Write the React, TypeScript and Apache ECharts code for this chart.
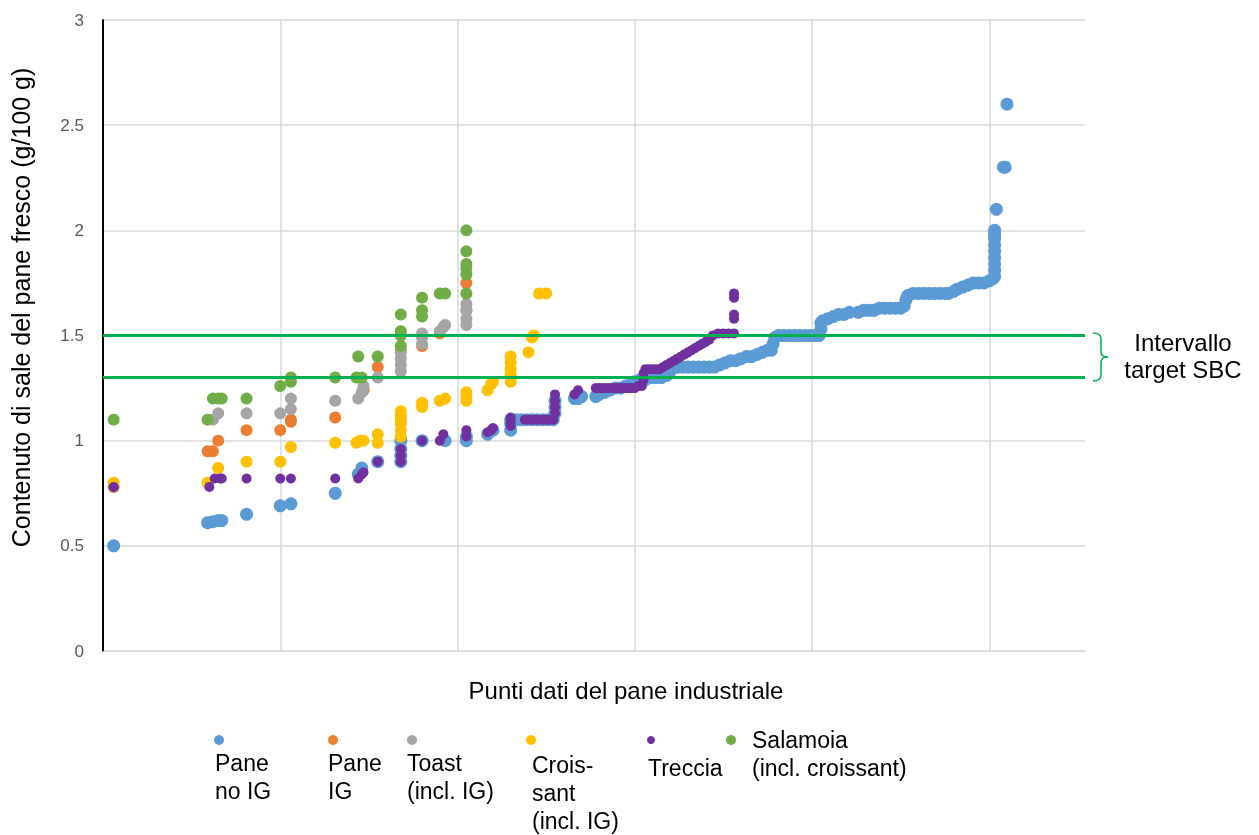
import React, { useEffect, useRef } from "react";
import * as echarts from "echarts";

// ---- data ----
const seriesNames = [
  "Pane no IG",
  "Pane IG",
  "Toast (incl. IG)",
  "Croissant (incl. IG)",
  "Treccia",
  "Salamoia (incl. croissant)",
];
const legendLabels = [
  "Pane\nno IG",
  "Pane\nIG",
  "Toast\n(incl. IG)",
  "Crois-\nsant\n(incl. IG)",
  "Treccia",
  "Salamoia\n(incl. croissant)",
];
const seriesColors = ["#5B9BD5", "#ED7D31", "#A5A5A5", "#FFC000", "#7030A0", "#70AD47"];
const targetRange = [1.3, 1.5];
const targetLabel = "Intervallo\ntarget SBC";
const xTitle = "Punti dati del pane industriale";
const yTitle = "Contenuto di sale del pane fresco (g/100 g)";

const paneNoIG: number[][] = [
  [6, 0.5],
  [59, 0.61], [62, 0.615], [65, 0.62], [67, 0.62],
  [81, 0.65],
  [100, 0.69], [106, 0.7],
  [131, 0.75],
  [144, 0.84], [146, 0.87],
  [155, 0.9],
  [168, 0.9], [168, 0.93], [168, 0.96], [168, 1.0],
  [180, 1.0],
  [193, 1.0],
  [205, 1.0], [205, 1.02],
  [217, 1.03], [220, 1.05],
  [230, 1.05], [230, 1.08], [230, 1.1],
  [233, 1.1], [236, 1.1], [239, 1.1], [242, 1.1], [245, 1.1], [248, 1.1], [251, 1.1], [254, 1.1],
  [255, 1.13], [255, 1.16], [255, 1.19],
  [266, 1.2], [268, 1.2], [270, 1.21],
  [278, 1.21], [280, 1.22], [283, 1.23], [286, 1.24], [289, 1.25], [292, 1.25],
  [295, 1.26], [298, 1.27], [300, 1.28], [303, 1.29], [306, 1.29], [309, 1.3],
  [312, 1.3], [315, 1.3], [318, 1.31], [320, 1.33], [321, 1.35],
  [324, 1.35], [327, 1.35], [330, 1.35], [333, 1.35], [336, 1.35], [339, 1.35],
  [342, 1.35], [345, 1.35], [348, 1.36], [351, 1.37], [354, 1.38], [357, 1.38],
  [360, 1.39], [363, 1.4], [366, 1.4], [369, 1.41], [372, 1.42], [375, 1.43], [377, 1.43],
  [378, 1.46], [379, 1.49], [381, 1.5], [384, 1.5], [387, 1.5], [390, 1.5], [393, 1.5],
  [396, 1.5], [399, 1.5], [402, 1.5], [404, 1.5],
  [405, 1.53], [405, 1.56], [406, 1.57],
  [409, 1.58], [412, 1.59], [415, 1.6], [418, 1.6], [421, 1.61],
  [426, 1.61], [429, 1.62], [432, 1.62], [435, 1.62],
  [438, 1.63], [441, 1.63], [444, 1.63], [447, 1.63], [450, 1.63], [452, 1.64],
  [453, 1.67], [454, 1.69],
  [457, 1.7], [460, 1.7], [463, 1.7], [466, 1.7], [469, 1.7], [472, 1.7], [475, 1.7], [477, 1.7],
  [480, 1.71], [482, 1.72], [485, 1.73], [488, 1.74], [491, 1.75], [494, 1.75], [497, 1.75],
  [500, 1.76], [502, 1.77], [503, 1.78],
  [503, 1.81], [503, 1.84], [503, 1.87], [503, 1.9], [503, 1.93], [503, 1.96], [503, 1.98], [503, 2.0],
  [504, 2.1],
  [508, 2.3], [509, 2.3],
  [510, 2.6],
];

const paneIG: number[][] = [
  [6, 0.78],
  [59, 0.95], [62, 0.95], [65, 1.0],
  [81, 1.05],
  [100, 1.05], [106, 1.09], [106, 1.1],
  [131, 1.11],
  [147, 1.24],
  [155, 1.35],
  [168, 1.43],
  [180, 1.45],
  [190, 1.51],
  [205, 1.62], [205, 1.75],
];

const toast: number[][] = [
  [62, 1.1], [65, 1.13],
  [81, 1.13],
  [100, 1.13], [106, 1.15], [106, 1.2],
  [131, 1.19],
  [144, 1.2], [146, 1.23], [147, 1.26],
  [155, 1.3],
  [168, 1.33], [168, 1.36], [168, 1.39], [168, 1.42],
  [180, 1.46], [180, 1.49], [180, 1.51],
  [190, 1.52], [192, 1.54], [193, 1.55],
  [205, 1.55], [205, 1.58], [205, 1.62], [205, 1.65],
];

const croissant: number[][] = [
  [6, 0.8],
  [59, 0.8], [65, 0.87],
  [81, 0.9],
  [100, 0.9], [106, 0.97],
  [131, 0.99],
  [143, 0.99], [145, 1.0], [147, 1.0],
  [155, 0.99], [155, 1.03],
  [168, 1.02], [168, 1.05], [168, 1.08], [168, 1.1], [168, 1.12], [168, 1.14],
  [180, 1.16], [180, 1.18],
  [190, 1.19], [193, 1.2],
  [205, 1.19], [205, 1.21], [205, 1.23],
  [217, 1.24], [219, 1.27], [220, 1.28],
  [230, 1.28], [230, 1.31], [230, 1.34], [230, 1.37], [230, 1.4],
  [240, 1.42],
  [242, 1.49], [243, 1.5],
  [246, 1.7], [250, 1.7],
];

const treccia: number[][] = [
  [6, 0.78],
  [60, 0.78], [63, 0.82], [66, 0.82], [67, 0.82],
  [81, 0.82],
  [100, 0.82], [106, 0.82],
  [131, 0.82],
  [144, 0.82], [146, 0.84], [147, 0.85],
  [155, 0.9],
  [168, 0.9], [168, 0.93], [168, 0.96],
  [180, 1.0],
  [190, 1.0], [192, 1.03],
  [205, 1.02], [205, 1.05],
  [217, 1.04], [219, 1.05], [220, 1.06],
  [230, 1.07], [230, 1.09], [230, 1.11],
  [238, 1.1], [240, 1.1], [242, 1.1], [244, 1.1], [246, 1.1], [248, 1.1], [250, 1.1], [252, 1.1], [254, 1.1],
  [255, 1.13], [255, 1.16], [255, 1.19], [255, 1.22],
  [266, 1.22], [268, 1.24],
  [278, 1.25], [280, 1.25], [282, 1.25], [284, 1.25], [286, 1.25], [288, 1.25], [290, 1.25],
  [292, 1.25], [294, 1.25], [296, 1.25], [298, 1.25], [300, 1.25],
  [302, 1.26], [304, 1.26], [305, 1.29], [305, 1.32], [306, 1.34],
  [308, 1.34], [310, 1.34], [312, 1.34], [314, 1.34], [316, 1.35],
  [318, 1.36], [320, 1.37], [322, 1.38], [324, 1.39], [326, 1.4], [328, 1.41],
  [330, 1.42], [332, 1.43], [334, 1.44], [336, 1.45], [338, 1.46], [340, 1.47],
  [342, 1.48], [344, 1.5], [347, 1.51], [350, 1.51], [353, 1.51], [356, 1.51],
  [356, 1.58], [356, 1.6], [356, 1.68], [356, 1.7],
];

const salamoia: number[][] = [
  [6, 1.1],
  [59, 1.1], [62, 1.2], [65, 1.2], [67, 1.2],
  [81, 1.2],
  [100, 1.26], [106, 1.28], [106, 1.3],
  [131, 1.3],
  [143, 1.3], [146, 1.3], [144, 1.4],
  [155, 1.4],
  [168, 1.45], [168, 1.5], [168, 1.52], [168, 1.6],
  [180, 1.59], [180, 1.62], [180, 1.68],
  [190, 1.7], [193, 1.7],
  [205, 1.7], [205, 1.79], [205, 1.82], [205, 1.84], [205, 1.9], [205, 2.0],
];

const seriesData = [paneNoIG, paneIG, toast, croissant, treccia, salamoia];
const symbolSizes = [13, 12, 12, 12, 10, 12];

// legend layout (pixel positions of each legend item)
const legendDots = [
  [219, 740], [333, 740], [412, 740], [531, 740], [651, 740], [731, 740],
];
const legendTextPos = [
  [215, 749], [328, 749], [407, 749], [532, 751], [648, 754], [752, 726],
];

const FONT = "'Liberation Sans', Arial, sans-serif";

let braceRegistered = false;
function registerBrace() {
  if (braceRegistered) return;
  const d =
    "M0,0 C5,0 8,2 8,6 L8,19 C8,22 10,24 15,24 C10,24 8,26 8,29 L8,42 C8,46 5,48 0,48";
  echarts.graphic.registerShape("brace", echarts.graphic.extendPath(d, {}));
  braceRegistered = true;
}

export default function App() {
  const ref = useRef<HTMLDivElement>(null);
  useEffect(() => {
    if (!ref.current) return;
    registerBrace();
    const chart = echarts.init(ref.current, undefined, { renderer: "svg" });

    const scatterSeries = seriesData.map((data, i) => ({
      name: seriesNames[i],
      type: "scatter",
      data,
      symbol: "circle",
      symbolSize: symbolSizes[i],
      itemStyle: { color: seriesColors[i], opacity: 1 },
      z: 3,
    }));

    const legendGraphics: any[] = [];
    legendLabels.forEach((label, i) => {
      legendGraphics.push({
        type: "circle",
        shape: { cx: legendDots[i][0], cy: legendDots[i][1], r: i === 4 ? 4 : 5 },
        style: { fill: seriesColors[i] },
      });
      legendGraphics.push({
        type: "text",
        x: legendTextPos[i][0],
        y: legendTextPos[i][1],
        style: {
          text: label,
          font: `23px ${FONT}`,
          fill: "#000",
          lineHeight: 28,
        },
      });
    });

    chart.setOption({
      animation: false,
      grid: { left: 102, right: 174, top: 20, bottom: 184, containLabel: false },
      xAxis: {
        type: "value",
        min: 0,
        max: 554,
        interval: 100,
        name: xTitle,
        nameLocation: "middle",
        nameGap: 27,
        nameTextStyle: {
          fontFamily: FONT,
          fontSize: 24,
          color: "#000",
          padding: [0, 0, 0, 64],
        },
        axisLine: { show: true, lineStyle: { color: "#d9d9d9", width: 1 } },
        axisTick: { show: false },
        axisLabel: { show: false },
        splitLine: { show: true, showMaxLine: false, lineStyle: { color: "#d9d9d9", width: 1.5 } },
      },
      yAxis: {
        type: "value",
        min: 0,
        max: 3,
        interval: 0.5,
        name: yTitle,
        nameLocation: "middle",
        nameRotate: 90,
        nameGap: 70,
        nameTextStyle: {
          fontFamily: FONT,
          fontSize: 25,
          color: "#000",
          padding: [0, 0, 0, 56],
        },
        axisLine: { show: true, lineStyle: { color: "#000", width: 2 } },
        axisTick: { show: false },
        axisLabel: {
          fontFamily: FONT,
          fontSize: 17,
          color: "#595959",
          margin: 19,
        },
        splitLine: { show: true, lineStyle: { color: "#d9d9d9", width: 1.5 } },
      },
      series: [
        {
          name: "Intervallo target SBC",
          type: "scatter",
          data: [],
          z: 1,
          markLine: {
            silent: true,
            symbol: ["none", "none"],
            label: { show: false },
            lineStyle: { color: "#00B050", width: 3, type: "solid" },
            data: targetRange.map((v) => ({ yAxis: v })),
          },
        },
        ...scatterSeries,
      ],
      graphic: [
        {
          type: "brace",
          x: 1093,
          y: 333,
          style: { stroke: "#00B050", fill: "none", lineWidth: 1.5 },
        },
        {
          type: "text",
          x: 1183,
          y: 329,
          style: {
            text: targetLabel,
            font: `24px ${FONT}`,
            fill: "#000",
            align: "center",
            lineHeight: 27,
          },
        },
        ...legendGraphics,
      ],
    });
    return () => chart.dispose();
  }, []);
  return (
    <div
      ref={ref}
      style={{ position: "fixed", left: 0, top: 0, width: 1259, height: 835 }}
    />
  );
}
